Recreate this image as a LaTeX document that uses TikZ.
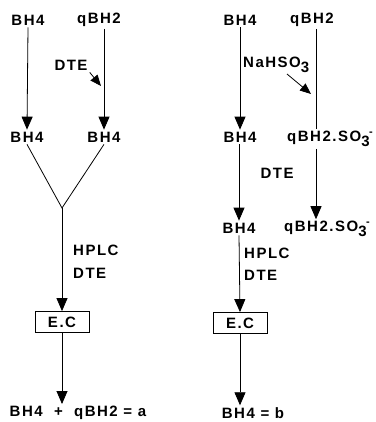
\documentclass[tikz,border=0pt]{standalone}
\usepackage{fontspec}
\setmainfont{Liberation Sans}[LetterSpace=10]
\usetikzlibrary{arrows.meta}
\newcommand\sulfo{SO\raisebox{-4.5pt}{3}\kern-0.5pt\raisebox{6pt}{\fontsize{11}{11}\selectfont -}}

\begin{document}
\begin{tikzpicture}[x=1pt, y=-1pt, >=Triangle,
  lbl/.style={font=\bfseries\fontsize{15}{17}\selectfont, inner sep=2pt},
  flow/.style={-{Triangle[width=11pt,length=13pt]}, line width=0.8pt},
  hint/.style={-{Triangle[width=9pt,length=11pt]}, line width=0.8pt},
  ecbox/.style={draw, line width=0.8pt, lbl, minimum width=54pt, minimum height=21pt}]
  \useasboundingbox (0,0) rectangle (375,422);
  % left scheme
  \node[lbl] (bhA) at (28,20) {BH4};
  \node[lbl] (qA) at (99,20) {qBH2};
  \node[lbl] (bhB) at (27,137) {BH4};
  \node[lbl] (qB) at (104,137) {BH4};
  \draw[flow] (bhA.south) -- (bhB.north);
  \draw[flow] (qA.south -| qB.north) -- (qB.north);
  \node[lbl] (dteA) at (71,65) {DTE};
  \coordinate (dteAtip) at (101,86);
  \draw[hint] (dteA.south east) -- (dteAtip);
  \coordinate (joinA) at (62,208);
  \draw[line width=0.8pt] (bhB.south) -- (joinA) -- (qB.south);
  \node[lbl, anchor=west] (hplcA) at (71,250) {HPLC};
  \node[lbl, anchor=west] (dteA2) at (71,273) {DTE};
  \node[ecbox] (ecA) at (62,322) {E.C};
  \draw[flow] (joinA) -- (ecA.north);
  \node[lbl] (resA) at (78,413) {BH4 \ + \ qBH2 = a};
  \draw[flow] (ecA.south) -- (ecA.south |- resA.north);
  % right scheme
  \coordinate (colS) at (316,0);
  \node[lbl] (bhC) at (240,20) {BH4};
  \node[lbl] (qC) at (312,20) {qBH2};
  \node[lbl] (bhD) at (240,137) {BH4};
  \node[lbl] (sD) at (330,139) {qBH2.\sulfo};
  \draw[flow] (bhC.south) -- (bhD.north);
  \draw[line width=0.8pt] (qC.south -| colS) -- (sD.north -| colS);
  \node[lbl, anchor=west] (naC) at (241,65) {NaHSO\raisebox{-4.5pt}{3}};
  \coordinate (naTail) at (287,74);
  \coordinate (naTip) at (311,94);
  \draw[hint] (naTail) -- (naTip);
  \node[lbl] (bhE) at (239,228) {BH4};
  \node[lbl] (sE) at (327,229) {qBH2.\sulfo};
  \draw[flow] (bhD.south -| bhE.north) -- (bhE.north);
  \draw[flow] (sD.south -| colS) -- (sE.north -| colS);
  \node[lbl] (dteD) at (277,173) {DTE};
  \node[lbl, anchor=west] (hplcE) at (242,253) {HPLC};
  \node[lbl, anchor=west] (dteE) at (242,275) {DTE};
  \node[ecbox] (ecB) at (240,323) {E.C};
  \draw[flow] (bhE.south) -- (ecB.north);
  \node[lbl] (resB) at (253,413) {BH4 = b};
  \draw[flow] (ecB.south) -- (ecB.south |- resB.north);
\end{tikzpicture}
\end{document}
